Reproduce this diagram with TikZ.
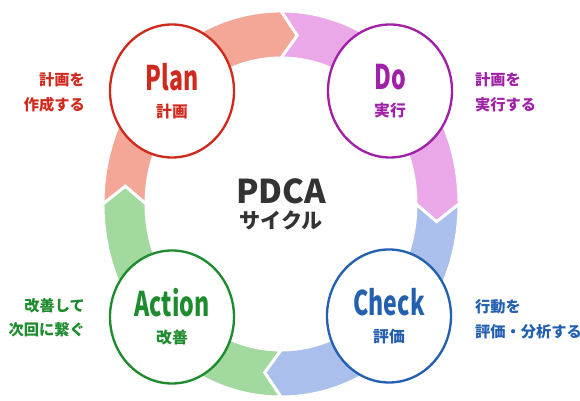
\documentclass[tikz,border=0pt]{standalone}
\usepackage{fontspec}
\setmainfont{Noto Sans CJK JP}
\newfontfamily\narrowfont[FakeStretch=0.68]{Noto Sans CJK JP}
\usetikzlibrary{calc, shapes.geometric}

\definecolor{planred}{HTML}{D02A1F}
\definecolor{planring}{HTML}{F4A697}
\definecolor{dopurple}{HTML}{A021A8}
\definecolor{doring}{HTML}{EBA8E8}
\definecolor{checkblue}{HTML}{2460B0}
\definecolor{checkring}{HTML}{AABFEC}
\definecolor{actgreen}{HTML}{1E8B2E}
\definecolor{actring}{HTML}{A2D99F}
\definecolor{titlegray}{HTML}{333333}

% one piece of the ring: start angle, end angle, colour
\newcommand{\ringpart}[3]{%
  \filldraw[fill=#3, draw=white, line width=2.5pt]
    ($(C)+(#1:\rxo\space and \ryo)$)
    arc[start angle=#1, end angle=#2, x radius=\rxo, y radius=\ryo]
    -- ($(C)+(#2-\tip:\rxm\space and \rym)$)
    -- ($(C)+(#2:\rxi\space and \ryi)$)
    arc[start angle=#2, end angle=#1, x radius=\rxi, y radius=\ryi]
    -- ($(C)+(#1-\tip:\rxm\space and \rym)$) -- cycle;}

\begin{document}
\begin{tikzpicture}[x=0.03cm, y=0.03cm,
    phase/.style={ellipse, draw=#1, fill=white, line width=2pt,
      minimum width=3.72cm, minimum height=3.99cm, inner sep=0pt,
      text=#1, align=center},
    note/.style={text=#1, font=\bfseries\fontsize{13}{21}\selectfont}]
  \useasboundingbox (0, 0) rectangle (580, 401);
  \def\rxo{178}
  \def\ryo{193}
  \def\rxi{135}
  \def\ryi{146}
  \def\rxm{156.5}
  \def\rym{169.5}
  \def\tip{6}
  \coordinate (C) at (281, 197);
  \ringpart{180}{90}{planring}
  \ringpart{90}{0}{doring}
  \ringpart{0}{-90}{checkring}
  \ringpart{270}{180}{actring}
  \node[phase=planred] (plan) at (172, 310)
    {\narrowfont\bfseries\fontsize{29}{29}\selectfont Plan\\[11pt]
     \bfseries\fontsize{13.5}{13.5}\selectfont 計画};
  \node[phase=dopurple] (do) at (390, 310)
    {\narrowfont\bfseries\fontsize{29}{29}\selectfont Do\\[11pt]
     \bfseries\fontsize{13.5}{13.5}\selectfont 実行};
  \node[phase=actgreen] (act) at (172, 84)
    {\narrowfont\bfseries\fontsize{29}{29}\selectfont Action\\[11pt]
     \bfseries\fontsize{13.5}{13.5}\selectfont 改善};
  \node[phase=checkblue] (check) at (389, 85)
    {\narrowfont\bfseries\fontsize{29}{29}\selectfont Check\\[11pt]
     \bfseries\fontsize{13.5}{13.5}\selectfont 評価};
  \node[text=titlegray, align=center] (title) at (C)
    {\bfseries\fontsize{28}{28}\selectfont PDCA\\[5pt]
     \bfseries\fontsize{18}{18}\selectfont サイクル};
  \node[note=planred, anchor=east, align=right] (plannote) at (89, 308.5)
    {計画を\\作成する};
  \node[note=dopurple, anchor=west, align=left] (donote) at (471, 308.5)
    {計画を\\実行する};
  \node[note=actgreen, anchor=east, align=right] (actnote) at (89, 83.5)
    {改善して\\次回に繋ぐ};
  \node[note=checkblue, anchor=west, align=left] (checknote) at (471, 81.5)
    {行動を\\評価・分析する};
\end{tikzpicture}
\end{document}
